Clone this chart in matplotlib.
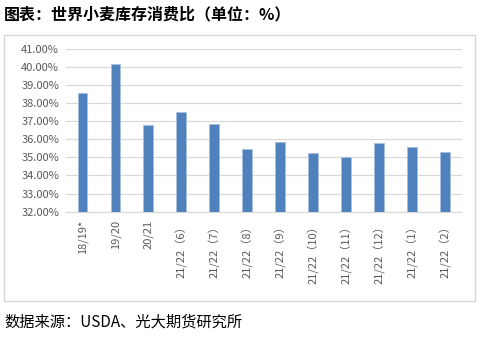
import matplotlib
matplotlib.use('Agg')
import matplotlib.pyplot as plt
from matplotlib.patches import Rectangle
from matplotlib.ticker import FuncFormatter
import numpy as np

plt.rcParams['font.family'] = ['Noto Sans CJK SC', 'DejaVu Sans']

categories = ['18/19*', '19/20', '20/21', '21/22（6）', '21/22（7）', '21/22（8）',
              '21/22（9）', '21/22（10）', '21/22（11）', '21/22（12）', '21/22（1）', '21/22（2）']
ratios = [38.54, 40.15, 36.80, 37.49, 36.86, 35.46, 35.87, 35.22, 35.02, 35.77, 35.57, 35.28]
yticks = np.arange(32, 42, 1)

W, H = 485, 342
fig = plt.figure(figsize=(W / 100, H / 100), dpi=100)

# outer chart frame
fig.patches.append(Rectangle((4 / W, 1 - 301 / H), 471 / W, 266 / H, transform=fig.transFigure,
                             fill=False, edgecolor='#d9d9d9', linewidth=1))

ax = fig.add_axes([66 / W, 1 - 211.7 / H, 395.7 / W, 163 / H])
x = np.arange(len(categories))
ax.bar(x, ratios, width=0.3, color='#4f81bd', edgecolor='#a7bfe0', linewidth=0.6, zorder=3)
ax.set_xlim(-0.5, len(categories) - 0.5)
ax.set_ylim(32, 41)
ax.set_yticks(yticks)
ax.yaxis.set_major_formatter(FuncFormatter(lambda v, p: '%.2f%%' % v))
ax.grid(axis='y', color='#d9d9d9', linewidth=0.9, zorder=0)
for s in ['top', 'right', 'left']:
    ax.spines[s].set_visible(False)
ax.spines['bottom'].set_color('#d9d9d9')
ax.tick_params(length=0, colors='#595959', labelsize=8)
ax.tick_params(axis='y', pad=5)
ax.tick_params(axis='x', pad=6)
ax.set_xticks(x)
ax.set_xticklabels(categories, rotation=90, va='top', ha='center')

fig.text(4 / W, 1 - 14 / H, '图表：世界小麦库存消费比（单位：%）', fontsize=11.5, fontweight='bold',
         va='center', ha='left', color='#000000')
fig.text(4 / W, 1 - 322 / H, '数据来源：USDA、光大期货研究所', fontsize=11,
         va='center', ha='left', color='#000000')

fig.savefig('out.png', dpi=100)
